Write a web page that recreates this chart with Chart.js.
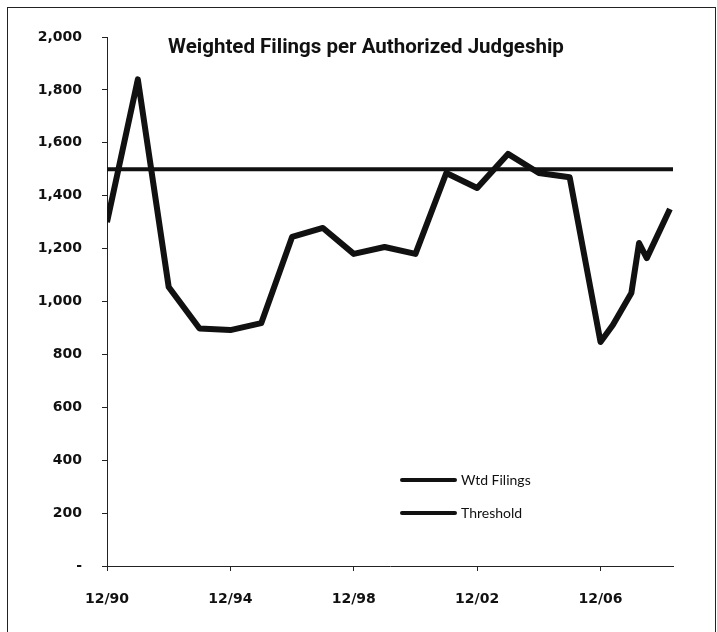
<!DOCTYPE html>
<html>
<head>
<meta charset="utf-8">
<script src="https://cdn.jsdelivr.net/npm/chart.js@4"></script>
<style>
  html, body { margin: 0; padding: 0; background: #fff; }
  #wrap { width: 717px; height: 632px; position: relative; }
</style>
</head>
<body>
<div id="wrap"><canvas id="filingsChart" width="717" height="632"></canvas></div>
<script>
// years since 12/90 (0 = 12/90, 4 = 12/94 ...)
const filingYears = [0, 1, 2, 3, 4, 5, 6, 7, 8, 9, 10, 11, 12, 13, 14, 15, 16, 16.4, 17, 17.25, 17.5, 18.25];
const filingValues = [1300, 1840, 1055, 898, 892, 918, 1244, 1278, 1180, 1206, 1180, 1486, 1429, 1558, 1486, 1470, 847, 911, 1032, 1221, 1164, 1350];
const thresholdYears = [0, 18.35];
const thresholdValues = [1500, 1500];
const tickYears = [0, 4, 8, 12, 16];
const tickLabels = ["12/90", "12/94", "12/98", "12/02", "12/06"];
const chartTitle = "Weighted Filings per Authorized Judgeship";

const toPoints = (xs, ys) => xs.map((x, i) => ({ x, y: ys[i] }));

// frame, title and legend drawn inside the plot like the original
const decorations = {
  id: "decorations",
  beforeDraw(chart) {
    const ctx = chart.ctx;
    ctx.save();
    ctx.fillStyle = "#fff";
    ctx.fillRect(0, 0, chart.width, chart.height);
    ctx.strokeStyle = "#222";
    ctx.lineWidth = 1;
    ctx.strokeRect(7.5, 7.5, 708, 700);
    ctx.restore();
  },
  afterDraw(chart) {
    const ctx = chart.ctx;
    ctx.save();
    ctx.fillStyle = "#111";
    ctx.font = "bold 20.5px Roboto, sans-serif";
    ctx.textAlign = "center";
    ctx.textBaseline = "alphabetic";
    ctx.fillText(chartTitle, 366, 53);

    ctx.font = "14px Lato, sans-serif";
    ctx.textAlign = "left";
    ctx.textBaseline = "middle";
    chart.data.datasets.forEach((ds, i) => {
      const y = 480 + i * 33;
      ctx.strokeStyle = ds.borderColor;
      ctx.lineWidth = 4;
      ctx.lineCap = "round";
      ctx.beginPath();
      ctx.moveTo(402, y);
      ctx.lineTo(455, y);
      ctx.stroke();
      ctx.fillText(ds.label, 461, y);
    });
    ctx.restore();
  }
};

new Chart(document.getElementById("filingsChart").getContext("2d"), {
  type: "line",
  data: {
    datasets: [{
      label: "Wtd Filings",
      data: toPoints(filingYears, filingValues),
      borderColor: "#111",
      borderWidth: 6,
      pointRadius: 0,
      tension: 0,
      borderJoinStyle: "round"
    }, {
      label: "Threshold",
      data: toPoints(thresholdYears, thresholdValues),
      borderColor: "#111",
      borderWidth: 4,
      pointRadius: 0
    }]
  },
  plugins: [decorations],
  options: {
    responsive: false,
    animation: false,
    events: [],
    layout: { padding: { left: 0, top: 37, right: 44, bottom: 0 } },
    plugins: {
      legend: { display: false },
      title: { display: false },
      tooltip: { enabled: false }
    },
    scales: {
      x: {
        type: "linear",
        min: 0,
        max: 18.35,
        afterBuildTicks(scale) {
          scale.ticks = tickYears.map(v => ({ value: v }));
        },
        afterFit(scale) { scale.height = 66; },
        ticks: {
          autoSkip: false,
          maxRotation: 0,
          padding: 20,
          color: "#111",
          font: { family: "'DejaVu Sans', sans-serif", size: 14, weight: "bold" },
          callback: (v) => tickLabels[tickYears.indexOf(v)]
        },
        grid: { drawOnChartArea: false, drawTicks: true, tickLength: 5, color: "#222" },
        border: { color: "#222", width: 1 }
      },
      y: {
        min: 0,
        max: 2000,
        afterFit(scale) { scale.width = 107; },
        ticks: {
          stepSize: 200,
          padding: 20,
          color: "#111",
          font: { family: "'DejaVu Sans', sans-serif", size: 14, weight: "bold" },
          callback: (v) => v === 0 ? "-" : v.toLocaleString("en-US")
        },
        grid: { drawOnChartArea: false, drawTicks: true, tickLength: 5, color: "#222" },
        border: { color: "#222", width: 1 }
      }
    }
  }
});
</script>
</body>
</html>
